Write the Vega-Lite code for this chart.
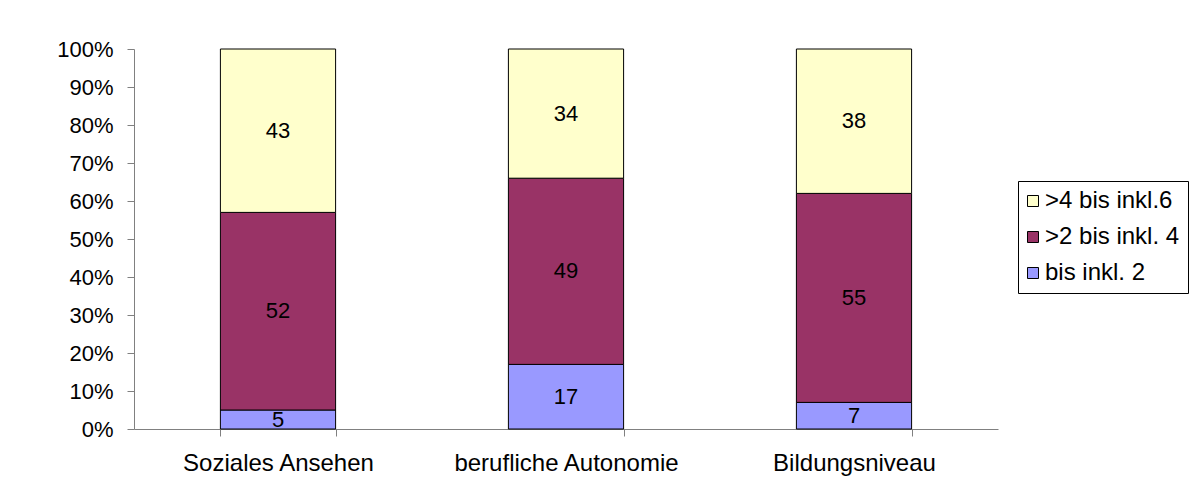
{
  "$schema": "https://vega.github.io/schema/vega-lite/v6.json",
  "width": 864,
  "height": 380,
  "autosize": {"type": "none"},
  "padding": {"left": 134, "top": 49, "right": 192, "bottom": 69},
  "background": "white",
  "config": {
    "view": {"stroke": null},
    "font": "Liberation Sans",
    "axisY": {
      "title": null,
      "format": ".0%",
      "values": [0, 0.1, 0.2, 0.3, 0.4, 0.5, 0.6, 0.7, 0.8, 0.9, 1],
      "grid": false,
      "labelFontSize": 22,
      "labelColor": "black",
      "labelPadding": 14,
      "tickSize": 7,
      "tickColor": "#808080",
      "domainColor": "#808080",
      "labelFont": "Liberation Sans"
    }
  },
  "data": {
    "values": [
      {"cat": "Soziales Ansehen", "group": "bis inkl. 2", "ord": 1, "value": 5},
      {"cat": "Soziales Ansehen", "group": ">2 bis inkl. 4", "ord": 2, "value": 52},
      {"cat": "Soziales Ansehen", "group": ">4 bis inkl.6", "ord": 3, "value": 43},
      {"cat": "berufliche Autonomie", "group": "bis inkl. 2", "ord": 1, "value": 17},
      {"cat": "berufliche Autonomie", "group": ">2 bis inkl. 4", "ord": 2, "value": 49},
      {"cat": "berufliche Autonomie", "group": ">4 bis inkl.6", "ord": 3, "value": 34},
      {"cat": "Bildungsniveau", "group": "bis inkl. 2", "ord": 1, "value": 7},
      {"cat": "Bildungsniveau", "group": ">2 bis inkl. 4", "ord": 2, "value": 55},
      {"cat": "Bildungsniveau", "group": ">4 bis inkl.6", "ord": 3, "value": 38}
    ]
  },
  "transform": [
    {"stack": "value", "groupby": ["cat"], "sort": [{"field": "ord", "order": "ascending"}], "offset": "normalize", "as": ["v0", "v1"]}
  ],
  "encoding": {
    "x": {
      "field": "cat",
      "type": "nominal",
      "sort": ["Soziales Ansehen", "berufliche Autonomie", "Bildungsniveau"],
      "scale": {"paddingInner": 0.6, "paddingOuter": 0.3},
      "axis": {
        "title": null,
        "labelAngle": 0,
        "labelFontSize": 24,
        "labelColor": "black",
        "labelPadding": 15,
        "labelLimit": 400,
        "tickBand": "extent",
        "tickSize": 7,
        "tickColor": "#808080",
        "domainColor": "#808080",
        "labelFont": "Liberation Sans"
      }
    }
  },
  "layer": [
    {
      "mark": {"type": "bar", "stroke": "black", "strokeWidth": 1},
      "encoding": {
        "y": {
          "field": "v0",
          "type": "quantitative",
          "title": null,
          "scale": {"domain": [0, 1], "nice": false}
        },
        "y2": {"field": "v1"},
        "color": {
          "field": "group",
          "type": "nominal",
          "scale": {
            "domain": [">4 bis inkl.6", ">2 bis inkl. 4", "bis inkl. 2"],
            "range": ["#FFFFCC", "#993366", "#9999FF"]
          },
          "legend": {
            "title": null,
            "orient": "none",
            "legendX": 884,
            "legendY": 132,
            "padding": 8,
            "strokeColor": "black",
            "fillColor": "white",
            "symbolType": "square",
            "symbolSize": 121,
            "symbolOffset": -5,
            "symbolStrokeColor": "black",
            "symbolStrokeWidth": 1,
            "symbolOpacity": 1,
            "labelFontSize": 24,
            "labelFont": "Liberation Sans",
            "labelColor": "black",
            "labelOffset": 0,
            "rowPadding": 12,
            "labelLimit": 300
          }
        }
      }
    },
    {
      "transform": [
        {"fold": ["v0", "v1"], "as": ["edge", "pos"]},
        {"aggregate": [{"op": "mean", "field": "pos", "as": "mid"}], "groupby": ["cat", "group", "value"]}
      ],
      "mark": {"type": "text", "fontSize": 22, "color": "black", "font": "Liberation Sans", "baseline": "middle"},
      "encoding": {
        "y": {"field": "mid", "type": "quantitative", "title": null, "scale": {"domain": [0, 1], "nice": false}},
        "text": {"field": "value", "type": "quantitative"}
      }
    }
  ]
}
